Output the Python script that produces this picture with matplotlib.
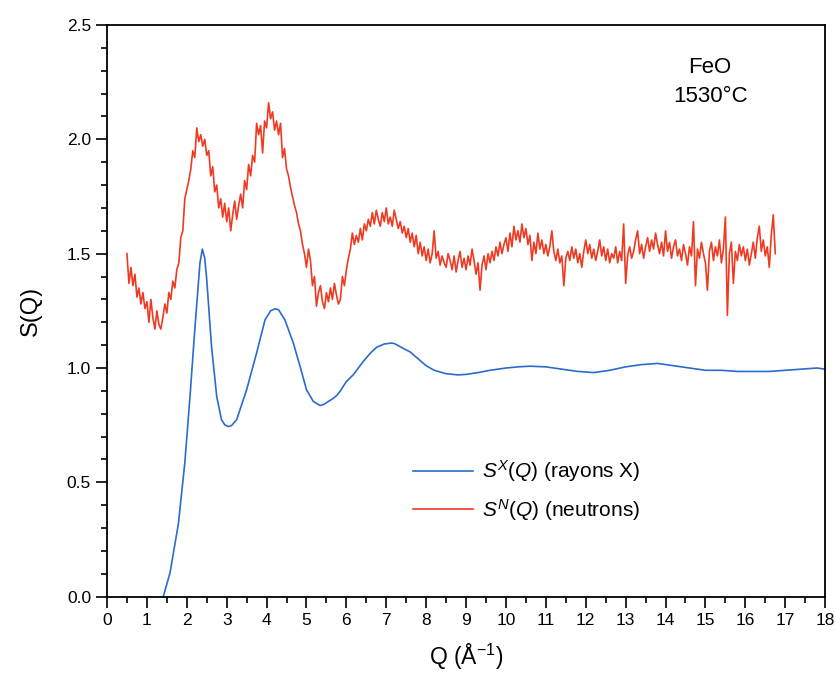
import numpy as np
import matplotlib.pyplot as plt
from matplotlib.ticker import MultipleLocator

plt.rcParams['font.family'] = ['Liberation Sans', 'DejaVu Sans']
plt.rcParams['mathtext.fontset'] = 'custom'
plt.rcParams['mathtext.rm'] = 'Liberation Sans'
plt.rcParams['mathtext.it'] = 'Liberation Sans:italic'

# S^X(Q), rayons X
q_x = [1.41, 1.58, 1.79, 1.95, 2.08, 2.2, 2.33, 2.39, 2.45, 2.5, 2.62, 2.75, 2.87, 2.95,
       3.04, 3.12, 3.25, 3.5, 3.75, 3.96, 4.1, 4.21, 4.3, 4.46, 4.67, 4.84, 5.0, 5.17,
       5.34, 5.45, 5.55, 5.65, 5.76, 5.85, 6.0, 6.17, 6.42, 6.6, 6.76, 6.95, 7.13, 7.2,
       7.34, 7.6, 7.8, 8.0, 8.2, 8.5, 8.8, 9.0, 9.3, 9.6, 10.0, 10.3, 10.6, 11.0, 11.4,
       11.8, 12.2, 12.6, 13.0, 13.4, 13.8, 14.2, 14.6, 15.0, 15.4, 15.8, 16.2, 16.6,
       17.0, 17.4, 17.8, 18.0]
s_x = [0.0, 0.105, 0.32, 0.585, 0.875, 1.167, 1.46, 1.52, 1.48, 1.386, 1.094, 0.875,
       0.774, 0.752, 0.744, 0.748, 0.774, 0.905, 1.066, 1.21, 1.25, 1.259, 1.255, 1.21,
       1.109, 1.007, 0.905, 0.854, 0.836, 0.842, 0.854, 0.865, 0.88, 0.90, 0.941, 0.97,
       1.028, 1.065, 1.091, 1.105, 1.109, 1.107, 1.094, 1.07, 1.04, 1.01, 0.99, 0.975,
       0.97, 0.972, 0.98, 0.99, 1.0, 1.005, 1.008, 1.005, 0.995, 0.985, 0.98, 0.99,
       1.005, 1.015, 1.02, 1.01, 1.0, 0.99, 0.99, 0.985, 0.985, 0.985, 0.99, 0.995,
       1.0, 0.995]

# S^N(Q), neutrons, sampled every 0.05 from Q = 0.5 to 16.75
q_n = np.round(np.arange(0.5, 16.751, 0.05), 2)
s_n = [
    1.50, 1.37, 1.44, 1.36, 1.41, 1.31, 1.35, 1.28, 1.33, 1.26,
    1.29, 1.20, 1.30, 1.22, 1.17, 1.25, 1.19, 1.17, 1.22, 1.28,
    1.24, 1.33, 1.30, 1.38, 1.35, 1.43, 1.46, 1.57, 1.60, 1.74,
    1.78, 1.82, 1.87, 1.95, 1.92, 2.05, 1.99, 2.02, 1.97, 2.00,
    1.93, 1.95, 1.84, 1.88, 1.77, 1.80, 1.70, 1.74, 1.66, 1.72,
    1.64, 1.70, 1.60, 1.67, 1.73, 1.65, 1.71, 1.76, 1.70, 1.82,
    1.78, 1.89, 1.84, 1.93, 1.90, 2.07, 2.02, 2.06, 1.94, 2.08,
    2.05, 2.16, 2.09, 2.12, 2.04, 2.08, 2.02, 2.07, 1.92, 1.96,
    1.87, 1.84, 1.79, 1.75, 1.71, 1.68, 1.63, 1.60, 1.54, 1.50,
    1.44, 1.52, 1.47, 1.36, 1.40, 1.27, 1.33, 1.36, 1.29, 1.26,
    1.33, 1.29, 1.35, 1.30, 1.37, 1.32, 1.28, 1.30, 1.40, 1.36,
    1.43, 1.48, 1.52, 1.59, 1.54, 1.58, 1.55, 1.61, 1.56, 1.63,
    1.60, 1.65, 1.62, 1.68, 1.63, 1.69, 1.65, 1.62, 1.68, 1.64,
    1.70, 1.63, 1.66, 1.62, 1.69, 1.65, 1.61, 1.64, 1.59, 1.62,
    1.57, 1.61, 1.55, 1.59, 1.53, 1.58, 1.50, 1.55, 1.49, 1.53,
    1.47, 1.52, 1.46, 1.50, 1.60, 1.48, 1.51, 1.45, 1.49, 1.46,
    1.44, 1.50, 1.47, 1.43, 1.49, 1.42, 1.47, 1.51, 1.44, 1.48,
    1.43, 1.49, 1.45, 1.52, 1.47, 1.41, 1.46, 1.34, 1.45, 1.49,
    1.43, 1.50, 1.46, 1.51, 1.47, 1.53, 1.49, 1.55, 1.50, 1.54,
    1.57, 1.51, 1.59, 1.53, 1.62, 1.56, 1.60, 1.55, 1.63, 1.57,
    1.61, 1.54, 1.58, 1.47, 1.55, 1.50, 1.59, 1.52, 1.56, 1.50,
    1.54, 1.49, 1.53, 1.60, 1.51, 1.47, 1.52, 1.46, 1.49, 1.36,
    1.48, 1.51, 1.47, 1.53, 1.48, 1.52, 1.46, 1.50, 1.44, 1.51,
    1.56, 1.50, 1.54, 1.48, 1.52, 1.47, 1.51, 1.56, 1.49, 1.53,
    1.47, 1.52, 1.46, 1.50, 1.48, 1.53, 1.46, 1.51, 1.47, 1.63,
    1.37, 1.49, 1.53, 1.48, 1.51, 1.56, 1.60, 1.50, 1.54, 1.48,
    1.53, 1.57, 1.51, 1.56, 1.52, 1.59, 1.54, 1.50, 1.55, 1.49,
    1.60, 1.51, 1.55, 1.48, 1.53, 1.56, 1.49, 1.52, 1.47, 1.54,
    1.50, 1.45, 1.53, 1.49, 1.64, 1.36, 1.52, 1.48, 1.55, 1.50,
    1.46, 1.34, 1.51, 1.55, 1.47, 1.53, 1.49, 1.56, 1.46, 1.52,
    1.66, 1.23, 1.50, 1.55, 1.37, 1.51, 1.47, 1.54, 1.49, 1.53,
    1.47, 1.52, 1.45, 1.50, 1.55, 1.48, 1.57, 1.62, 1.51, 1.56,
    1.49, 1.53, 1.44, 1.58, 1.67, 1.50,
]

fig = plt.figure(figsize=(8.36, 6.75), dpi=100)
ax = fig.add_axes([0.128, 0.116, 0.859, 0.847])

ax.plot(q_x, s_x, color='#2b6bcc', lw=1.2, label=r'$\mathit{S^X(Q)}$ (rayons X)')
ax.plot(q_n, s_n, color='#ef3a22', lw=1.2, label=r'$\mathit{S^N(Q)}$ (neutrons)')

ax.set_xlim(0, 18)
ax.set_ylim(0, 2.5)
ax.xaxis.set_major_locator(MultipleLocator(1))
ax.xaxis.set_minor_locator(MultipleLocator(0.5))
ax.yaxis.set_major_locator(MultipleLocator(0.5))
ax.yaxis.set_minor_locator(MultipleLocator(0.1))
ax.yaxis.set_major_formatter(plt.FormatStrFormatter('%.1f'))
ax.tick_params(which='both', direction='out', top=False, right=False, width=1.2,
               labelsize=12.5)
ax.tick_params(which='major', length=8)
ax.tick_params(which='minor', length=4.5)
for s in ax.spines.values():
    s.set_linewidth(1.3)

ax.set_xlabel(r'Q (Å$^{-1}$)', fontsize=16.5, labelpad=10)
ax.set_ylabel('S(Q)', fontsize=17, labelpad=18)

ax.text(0.84, 0.9, 'FeO\n1530°C', transform=ax.transAxes, ha='center', va='center',
        fontsize=16, linespacing=1.5)

ax.legend(loc='upper left', bbox_to_anchor=(0.4, 0.275), frameon=False, fontsize=15,
          handlelength=2.9, handletextpad=0.4, labelspacing=0.6)

fig.savefig('out.png', dpi=100)
